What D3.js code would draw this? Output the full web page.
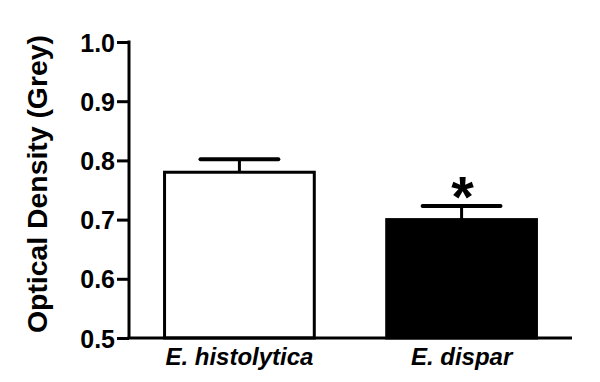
<!DOCTYPE html>
<html><head><meta charset="utf-8">
<script src="https://cdn.jsdelivr.net/npm/d3@7"></script>
<style>body{margin:0;background:#fff}svg{display:block}</style>
</head><body>
<svg id="c" width="600" height="382"></svg>
<script>
const categories = ["E. histolytica", "E. dispar"];
const means = [0.78, 0.70];
const errors = [0.022, 0.023];
const fills = ["#ffffff", "#000000"];
const significance = ["", "*"];
const yTicks = [0.5, 0.6, 0.7, 0.8, 0.9, 1.0];
const yLabel = "Optical Density (Grey)";

const svg = d3.select("#c");
const x0 = 129, x1 = 572, yTop = 42, yBot = 338;
const x = d3.scaleBand().domain(categories).range([x0, x1]).paddingInner(0.326).paddingOuter(0.16);
const y = d3.scaleLinear().domain([0.5, 1.0]).range([yBot, yTop]);
const font = "'Liberation Sans', Arial, sans-serif";

// bars
svg.selectAll("rect.bar").data(categories).join("rect")
  .attr("x", d => x(d)).attr("width", x.bandwidth())
  .attr("y", (d,i) => y(means[i])).attr("height", (d,i) => yBot - y(means[i]))
  .attr("fill", (d,i) => fills[i]).attr("stroke", "#000").attr("stroke-width", 3);

// error bars
const capW = x.bandwidth() * 0.52;
categories.forEach((d,i) => {
  const cx = x(d) + x.bandwidth()/2;
  svg.append("line").attr("x1", cx).attr("x2", cx)
    .attr("y1", y(means[i])).attr("y2", y(means[i] + errors[i]))
    .attr("stroke", "#000").attr("stroke-width", 3);
  svg.append("line").attr("x1", cx - capW/2).attr("x2", cx + capW/2)
    .attr("y1", y(means[i] + errors[i])).attr("y2", y(means[i] + errors[i]))
    .attr("stroke", "#000").attr("stroke-width", 4).attr("stroke-linecap", "round");
  if (significance[i]) {
    svg.append("text").attr("x", cx + 1).attr("y", y(means[i] + errors[i]) + 11)
      .attr("text-anchor", "middle").attr("font-family", font).attr("font-weight", "bold")
      .attr("font-size", 58).text(significance[i]);
  }
});

// y axis
const ya = svg.append("g").attr("transform", `translate(${x0},0)`)
  .call(d3.axisLeft(y).tickValues(yTicks).tickFormat(d3.format(".1f")).tickSize(12).tickSizeOuter(0));
ya.select(".domain").attr("stroke-width", 3).attr("d", `M0,${yTop-1.5}V${yBot}`);
ya.selectAll(".tick line").attr("stroke-width", 3);
ya.selectAll(".tick text").attr("font-family", font).attr("font-weight", "bold")
  .attr("font-size", 25).attr("fill", "#000").attr("x", -14).attr("dy", "0.36em");

// x axis line
svg.append("line").attr("x1", x0 - 1.5).attr("x2", x1).attr("y1", yBot).attr("y2", yBot)
  .attr("stroke", "#000").attr("stroke-width", 3);

// x labels
svg.selectAll("text.xl").data(categories).join("text").attr("class", "xl")
  .attr("x", d => x(d) + x.bandwidth()/2).attr("y", 365)
  .attr("text-anchor", "middle").attr("font-family", font).attr("font-weight", "bold")
  .attr("font-style", "italic").attr("font-size", 24).text(d => d);

// y label
svg.append("text").attr("transform", `translate(47,184) rotate(-90)`)
  .attr("text-anchor", "middle").attr("font-family", font).attr("font-weight", "bold")
  .attr("font-size", 27).attr("textLength", 298).attr("lengthAdjust", "spacingAndGlyphs")
  .text(yLabel);
</script>
</body></html>
